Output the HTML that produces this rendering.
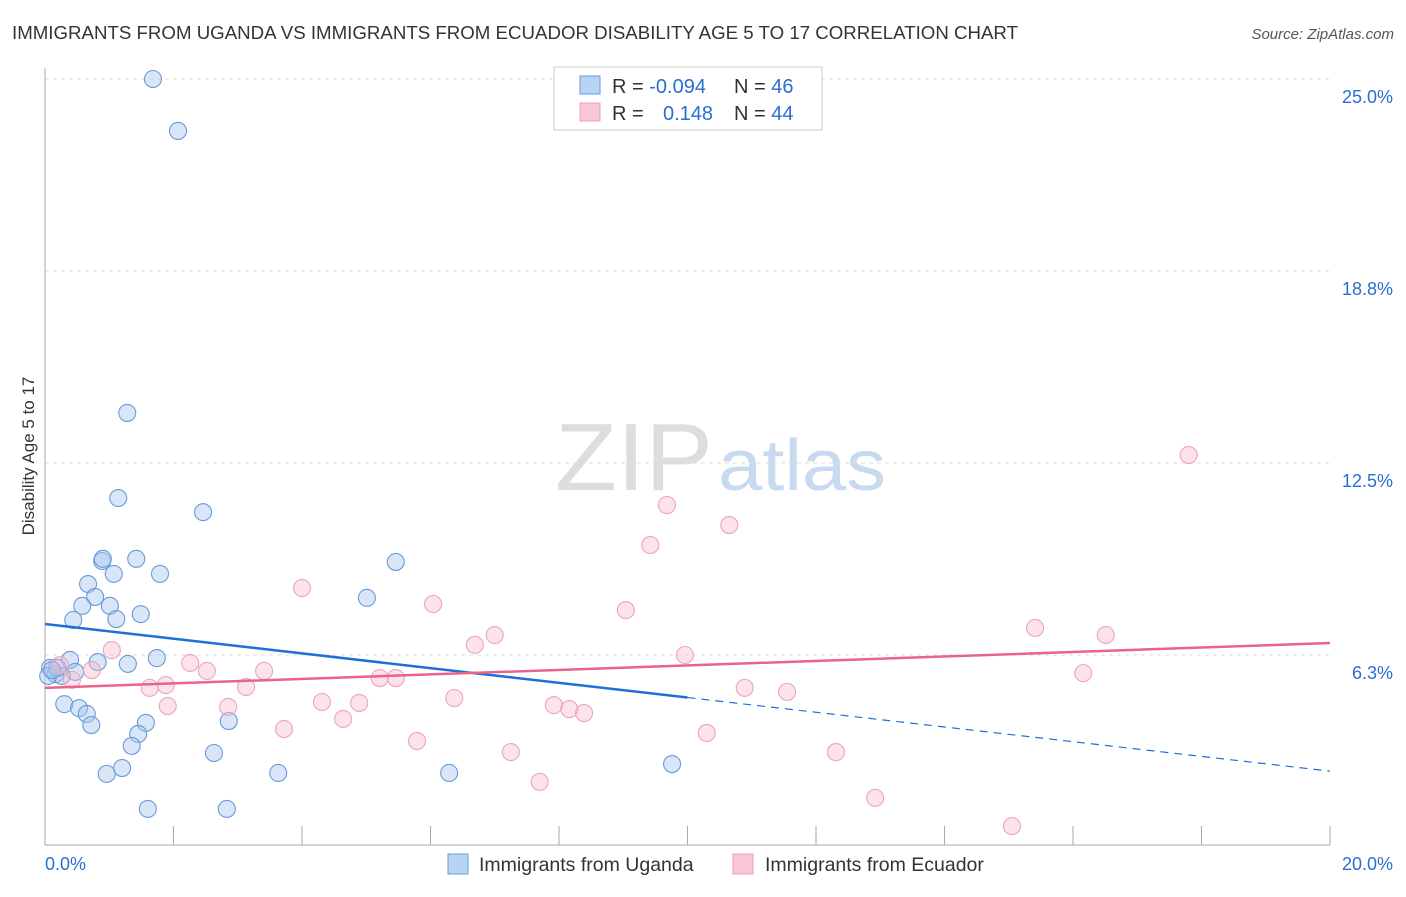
<!DOCTYPE html>
<html><head><meta charset="utf-8"><style>
body{margin:0;background:#fff;font-family:"Liberation Sans",sans-serif;}
svg text{font-family:"Liberation Sans",sans-serif;}
</style></head><body>
<svg id="chart" width="1406" height="892" xmlns="http://www.w3.org/2000/svg">
<text x="12" y="39" font-size="18" fill="#333" textLength="1006" lengthAdjust="spacingAndGlyphs">IMMIGRANTS FROM UGANDA VS IMMIGRANTS FROM ECUADOR DISABILITY AGE 5 TO 17 CORRELATION CHART</text>
<text x="1394" y="39" font-size="15" fill="#555" font-style="italic" text-anchor="end">Source: ZipAtlas.com</text>
<text x="555" y="490" font-size="96" fill="#ddd" font-family="Liberation Serif" textLength="158" lengthAdjust="spacingAndGlyphs">ZIP</text>
<text x="718" y="490" font-size="72" fill="#c8daf0" textLength="168" lengthAdjust="spacingAndGlyphs">atlas</text>
<text transform="translate(34,456) rotate(-90)" font-size="17" fill="#333" text-anchor="middle">Disability Age 5 to 17</text>
<g id="grid"></g><g id="axes"></g><g id="pts"></g><g id="trend"></g>
<g>
<rect x="554" y="67" width="268" height="63" fill="#fff" stroke="#ccc"/>
<rect x="580" y="76" width="20" height="18" fill="#b8d4f4" stroke="#6a9ad8"/>
<rect x="580" y="103" width="20" height="18" fill="#f9c6d4" stroke="#eaa0b8"/>
<text x="612" y="93" font-size="20" fill="#333">R = <tspan fill="#2a6fd0">-0.094</tspan></text>
<text x="734" y="93" font-size="20" fill="#333">N = <tspan fill="#2a6fd0">46</tspan></text>
<text x="612" y="120" font-size="20" fill="#333">R = </text>
<text x="663" y="120" font-size="20" fill="#2a6fd0">0.148</text>
<text x="734" y="120" font-size="20" fill="#333">N = <tspan fill="#2a6fd0">44</tspan></text>
</g>
<g>
<rect x="448" y="854" width="20" height="20" fill="#b8d4f4" stroke="#6a9ad8"/>
<text x="479" y="871" font-size="19.5" fill="#333">Immigrants from Uganda</text>
<rect x="733" y="854" width="20" height="20" fill="#f9c6d4" stroke="#eaa0b8"/>
<text x="765" y="871" font-size="19.5" fill="#333">Immigrants from Ecuador</text>
</g>
</svg>
<script>
const yTicks=[25,18.75,12.5,6.25];
const yTickLabels=["25.0%","18.8%","12.5%","6.3%"];
const xTicks=[0,2,4,6,8,10,12,14,16,18,20];
const ugandaX=[1.68,2.07,1.28,1.14,2.46,0.89,0.90,1.42,1.07,1.79,0.67,0.78,0.58,1.01,1.49,0.44,1.11,5.01,5.46,0.39,0.82,1.29,1.74,0.47,0.08,0.16,0.26,0.05,0.30,0.53,0.65,0.72,1.57,1.45,1.35,2.86,2.63,1.20,0.96,3.63,6.29,9.76,1.60,2.83,0.19,0.11];
const ugandaY=[25.0,23.31,14.13,11.36,10.90,9.31,9.38,9.38,8.89,8.89,8.56,8.14,7.85,7.85,7.58,7.39,7.42,8.11,9.28,6.09,6.02,5.96,6.15,5.70,5.83,5.63,5.57,5.57,4.65,4.52,4.33,3.97,4.04,3.68,3.29,4.10,3.06,2.57,2.38,2.41,2.41,2.70,1.24,1.24,5.83,5.76];
const ecuadorX=[17.80,9.68,10.65,9.42,4.00,6.04,9.04,7.00,6.69,15.41,16.51,9.96,1.04,2.26,2.52,3.41,0.23,0.73,0.42,1.88,1.63,3.13,5.21,5.46,10.89,11.55,16.16,1.91,2.85,4.31,4.89,6.37,7.92,8.16,8.39,4.64,3.72,5.79,10.30,7.25,12.31,7.70,12.92,15.05];
const ecuadorY=[12.76,11.13,10.48,9.83,8.43,7.91,7.71,6.90,6.58,7.13,6.90,6.25,6.41,5.99,5.73,5.73,5.92,5.76,5.44,5.27,5.18,5.21,5.50,5.50,5.18,5.05,5.66,4.59,4.56,4.72,4.69,4.85,4.62,4.49,4.36,4.17,3.84,3.45,3.71,3.09,3.09,2.12,1.60,0.68];
const ugandaTrend=[7.26,2.47];
const ecuadorTrend=[5.18,6.64];
const X=v=>45+v/20*1285, Y=v=>847-v*30.72;
const NS="http://www.w3.org/2000/svg";
function mk(t,a,p){const e=document.createElementNS(NS,t);for(const k in a)e.setAttribute(k,a[k]);p.appendChild(e);return e;}
const grid=document.getElementById('grid'),axes=document.getElementById('axes'),pts=document.getElementById('pts'),tr=document.getElementById('trend');
yTicks.forEach((v,i)=>{
 const l=mk('line',{x1:45,x2:1330,y1:Y(v),y2:Y(v),stroke:'#ddd','stroke-dasharray':'4,4'},grid);
 
 
 const t=mk('text',{x:1393,y:Y(v)+24,'font-size':18,fill:'#2a6fd0','text-anchor':'end'},grid);
 t.textContent=yTickLabels[i];
 
 
});
const ax=mk('line',{x1:45,x2:45,y1:68,y2:845,stroke:'#aaa'},axes);


const bx=mk('line',{x1:45,x2:1330,y1:845,y2:845,stroke:'#aaa'},axes);


xTicks.forEach(v=>{const l=mk('line',{x1:X(v),x2:X(v),y1:826,y2:845,stroke:'#aaa'},axes);
 
 });
const xl=mk('text',{x:45,y:870,'font-size':18,fill:'#2a6fd0'},axes);xl.textContent='0.0%';


const xr=mk('text',{x:1393,y:870,'font-size':18,fill:'#2a6fd0','text-anchor':'end'},axes);xr.textContent='20.0%';


ugandaX.forEach((v,i)=>{const c=mk('circle',{cx:X(v),cy:Y(ugandaY[i]),r:8.5,fill:'rgba(168,200,240,0.45)',stroke:'#6a9ad8','stroke-width':1.1},pts);
 
 });
ecuadorX.forEach((v,i)=>{const c=mk('circle',{cx:X(v),cy:Y(ecuadorY[i]),r:8.5,fill:'rgba(248,184,204,0.4)',stroke:'#eca4bc','stroke-width':1.1},pts);
 
 });
const bm=(ugandaTrend[0]+ugandaTrend[1])/2;
const t1=mk('line',{x1:X(0),y1:Y(ugandaTrend[0]),x2:X(10),y2:Y(bm),stroke:'#1f6fd8','stroke-width':2.5},tr);


const t2=mk('line',{x1:X(10),y1:Y(bm),x2:X(20),y2:Y(ugandaTrend[1]),stroke:'#1f6fd8','stroke-width':1.2,'stroke-dasharray':'8,6'},tr);


const t3=mk('line',{x1:X(0),y1:Y(ecuadorTrend[0]),x2:X(20),y2:Y(ecuadorTrend[1]),stroke:'#e8648c','stroke-width':2.5},tr);


</script>
</body></html>
